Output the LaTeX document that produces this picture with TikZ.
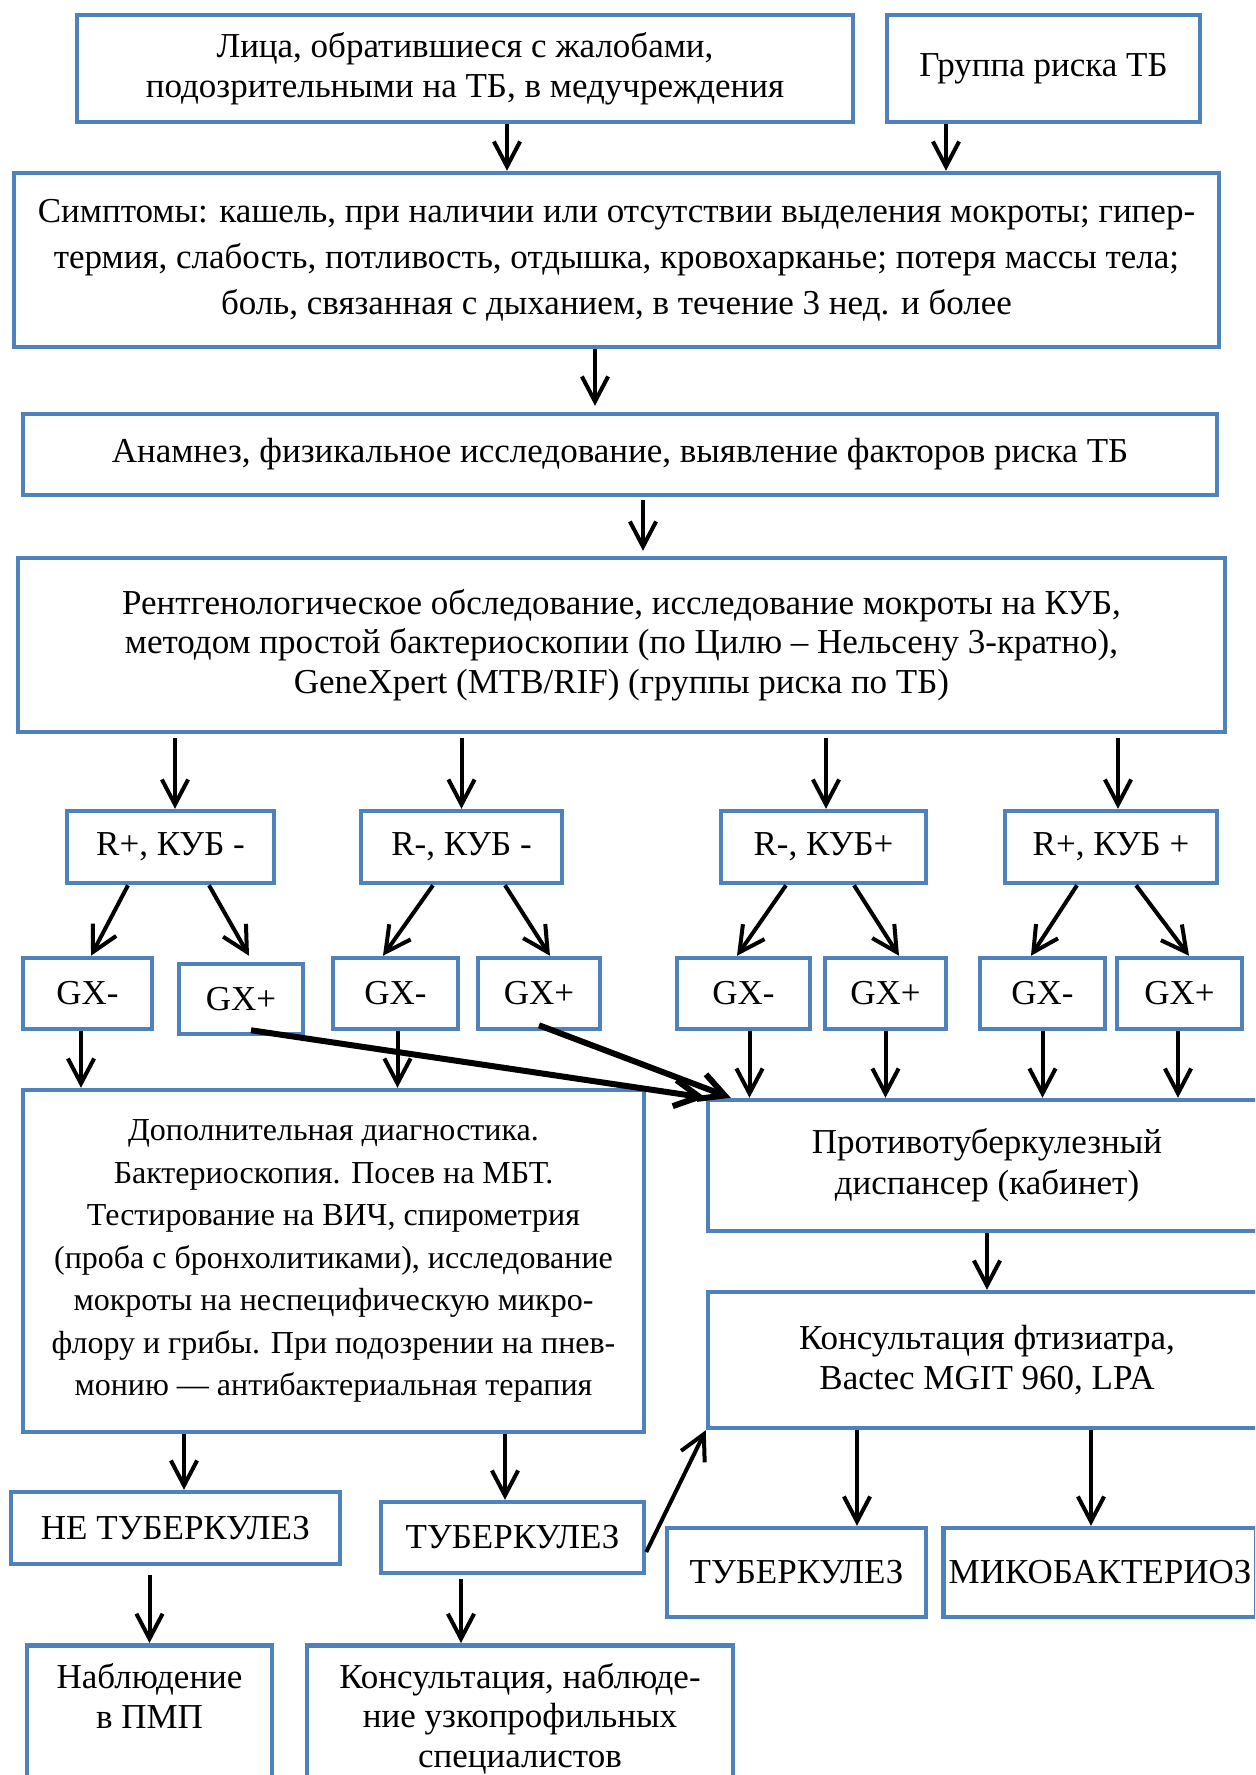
\documentclass[tikz,border=0pt]{standalone}
\usepackage{fontspec}
\setmainfont{Liberation Serif}
\usetikzlibrary{arrows.meta}
\definecolor{boxblue}{RGB}{79,129,189}

\begin{document}
\begin{tikzpicture}[
        x = 0.4pt, y = -0.4pt,
        >= {Straight Barb[length = 10pt, width = 10.5pt]},
        every node/.style = {font = \fontsize{14pt}{15.8pt}\selectfont, align = center, inner xsep = 2pt},
        block/.style = {draw = boxblue, line width = 1.8pt},
        wh/.style 2 args = {minimum width = #1, minimum height = #2},
        lead/.style = {font = \fontsize{14pt}{#1}\selectfont},
        arr/.style = {->, line width = 1.6pt},
        fat/.style = {->, line width = 2.4pt}
    ]

      \path[use as bounding box, clip] (0,0) rectangle (1255,1775);

      \node[block, wh = {310.4pt}{42.8pt}] (b_1) at (465, 68.5)
            {Лица, обратившиеся с жалобами,\\подозрительными на ТБ, в медучреждения};
      \node[block, wh = {125.2pt}{42.8pt}] (b_2) at (1043.5, 68.5) {Группа риска ТБ};

      \node[block, wh = {482pt}{69.6pt}, lead = 18.4pt] (b_3) at (616.5, 260)
            {Симптомы: кашель, при наличии или отсутствии выделения мокроты; гипер-\\
             термия, слабость, потливость, отдышка, кровохарканье; потеря массы тела;\\
             боль, связанная с дыханием, в течение 3 нед. и более};

      \node[block, wh = {477.6pt}{32.4pt}] (b_4) at (620, 454.5)
            {Анамнез, физикальное исследование, выявление факторов риска ТБ};

      \node[block, wh = {482.8pt}{69.6pt}] (b_5) at (621.5, 645)
            {Рентгенологическое обследование, исследование мокроты на КУБ,\\
             методом простой бактериоскопии (по Цилю – Нельсену 3-кратно),\\
             GeneXpert (MTB/RIF) (группы риска по ТБ)};

      % results of the first examination
      \node[block, wh = {82.8pt}{28.8pt}] (r_1) at (170.5, 847)  {R+, КУБ -};
      \node[block, wh = {80.4pt}{28.8pt}] (r_2) at (461.5, 847)  {R-, КУБ -};
      \node[block, wh = {82pt}{28.8pt}]   (r_3) at (823.5, 847)  {R-, КУБ+};
      \node[block, wh = {84.8pt}{28.8pt}] (r_4) at (1111, 847)   {R+, КУБ +};

      \node[block, wh = {51.6pt}{28.4pt}] (gm_1) at (87.5, 993.5)   {GX-};
      \node[block, wh = {49.6pt}{28pt}]   (gp_1) at (241, 999)      {GX+};
      \node[block, wh = {50pt}{28.4pt}]   (gm_2) at (395.5, 993.5)  {GX-};
      \node[block, wh = {48.8pt}{28.4pt}] (gp_2) at (539, 993.5)    {GX+};
      \node[block, wh = {53.2pt}{28.4pt}] (gm_3) at (743.5, 993.5)  {GX-};
      \node[block, wh = {48.4pt}{28.4pt}] (gp_3) at (885.5, 993.5)  {GX+};
      \node[block, wh = {50pt}{28.4pt}]   (gm_4) at (1042.5, 993.5) {GX-};
      \node[block, wh = {50pt}{28.4pt}]   (gp_4) at (1179.5, 993.5) {GX+};

      \node[block, wh = {248.4pt}{136.8pt}, font = \fontsize{12.8pt}{17pt}\selectfont] (d_1) at (333.5, 1261)
            {Дополнительная диагностика.\\
             Бактериоскопия. Посев на МБТ.\\
             Тестирование на ВИЧ, спирометрия\\
             (проба с бронхолитиками), исследование\\
             мокроты на неспецифическую микро-\\
             флору и грибы. При подозрении на пнев-\\
             монию — антибактериальная терапия};

      \node[block, wh = {223.2pt}{52.4pt}, lead = 16.4pt] (p_1) at (987, 1165.5)
            {Противотуберкулезный\\диспансер (кабинет)};
      \node[block, wh = {223.2pt}{54.4pt}, lead = 16pt] (k_1) at (987, 1360)
            {Консультация фтизиатра,\\Bactec MGIT 960, LPA};

      % outcomes
      \node[block, wh = {131.6pt}{28.8pt}] (n_1) at (175.5, 1528)  {НЕ ТУБЕРКУЛЕЗ};
      \node[block, wh = {105.2pt}{28.4pt}] (t_1) at (512.5, 1537.5) {ТУБЕРКУЛЕЗ};
      \node[block, wh = {103.6pt}{35.6pt}] (t_2) at (796.5, 1572.5) {ТУБЕРКУЛЕЗ};
      \node[block, wh = {124.8pt}{35.6pt}] (m_1) at (1100, 1572.5)  {МИКОБАКТЕРИОЗ};

      \node[block, anchor = north, minimum width = 98pt, inner ysep = 7.2pt,
            text depth = 40pt, lead = 16pt] (h_1) at (149.5, 1643)
            {Наблюдение\\в ПМП};
      \node[block, anchor = north, minimum width = 170.4pt, inner ysep = 7.2pt,
            text depth = 40pt] (h_2) at (520, 1643)
            {Консультация, наблюде-\\ние узкопрофильных\\специалистов};

      \path[arr]
            ([xshift = 16.8pt]b_1.south) edge ([xshift = 16.8pt]b_1.south |- b_3.north)
            ([xshift = -39pt]b_2.south)  edge ([xshift = -39pt]b_2.south |- b_3.north)
            ([xshift = -8.6pt]b_3.south) edge ([xshift = -8.6pt, yshift = 2.4pt]b_3.south |- b_4.north)
            ([xshift = 9.2pt, yshift = -1.2pt]b_4.south) edge ([xshift = 9.2pt, yshift = 2pt]b_4.south |- b_5.north)
            ([xshift = 1.8pt, yshift = -1.6pt]r_1.north |- b_5.south) edge ([xshift = 1.8pt]r_1.north)
            ([yshift = -1.6pt]r_2.north |- b_5.south)                 edge (r_2.north)
            ([xshift = 1pt, yshift = -1.6pt]r_3.north |- b_5.south)   edge ([xshift = 1pt]r_3.north)
            ([xshift = 2.8pt, yshift = -1.6pt]r_4.north |- b_5.south) edge ([xshift = 2.8pt]r_4.north);

      \path[arr]
            ([xshift = -17pt]r_1.south)   edge ([xshift = 1.4pt]gm_1.north)
            ([xshift = 15.4pt]r_1.south)  edge ([xshift = 3.2pt, yshift = 2.4pt]gp_1.north)
            ([xshift = -11.4pt]r_2.south) edge ([xshift = -5pt]gm_2.north)
            ([xshift = 17.4pt]r_2.south)  edge ([xshift = 4.4pt]gp_2.north)
            ([xshift = -15pt]r_3.south)   edge ([xshift = -2.6pt]gm_3.north)
            ([xshift = 12.2pt]r_3.south)  edge ([xshift = 5.4pt]gp_3.north)
            ([xshift = -13.6pt]r_4.south) edge ([xshift = -4.6pt]gm_4.north)
            ([xshift = 10pt]r_4.south)    edge ([xshift = 3.8pt]gp_4.north);

      \path[arr]
            ([xshift = -2.6pt]gm_1.south) edge ([xshift = -2.6pt]gm_1.south |- d_1.north)
            ([xshift = 0.8pt]gm_2.south)  edge ([xshift = 0.8pt]gm_2.south |- d_1.north)
            ([xshift = 2.4pt]gm_3.south)  edge ([xshift = 2.4pt]gm_3.south |- p_1.north)
            (gp_3.south)                  edge (gp_3.south |- p_1.north)
            (gm_4.south)                  edge (gm_4.south |- p_1.north)
            ([xshift = -0.6pt]gp_4.south) edge ([xshift = -0.6pt]gp_4.south |- p_1.north)
            (p_1.south) edge (k_1.north);

      \path[fat]
            ([xshift = 4pt, yshift = 2.4pt]gp_1.south) edge (p_1.north west)
            ([yshift = 2.4pt]gp_2.south) edge ([xshift = 10pt]p_1.north west);

      \path[arr]
            ([xshift = 3.4pt]n_1.north |- d_1.south) edge ([xshift = 3.4pt]n_1.north)
            ([xshift = -3pt]t_1.north |- d_1.south)  edge ([xshift = -3pt]t_1.north)
            ([yshift = -5.8pt]t_1.east) edge (k_1.south west)
            ([xshift = 24.2pt]t_2.north |- k_1.south) edge ([xshift = 24.2pt]t_2.north)
            ([xshift = -3.6pt]m_1.north |- k_1.south) edge ([xshift = -3.6pt]m_1.north)
            ([yshift = -3.6pt]h_1.north |- n_1.south) edge (h_1.north)
            ([xshift = -23.6pt, yshift = -1.6pt]h_2.north |- t_1.south) edge ([xshift = -23.6pt]h_2.north);

\end{tikzpicture}
\end{document}
